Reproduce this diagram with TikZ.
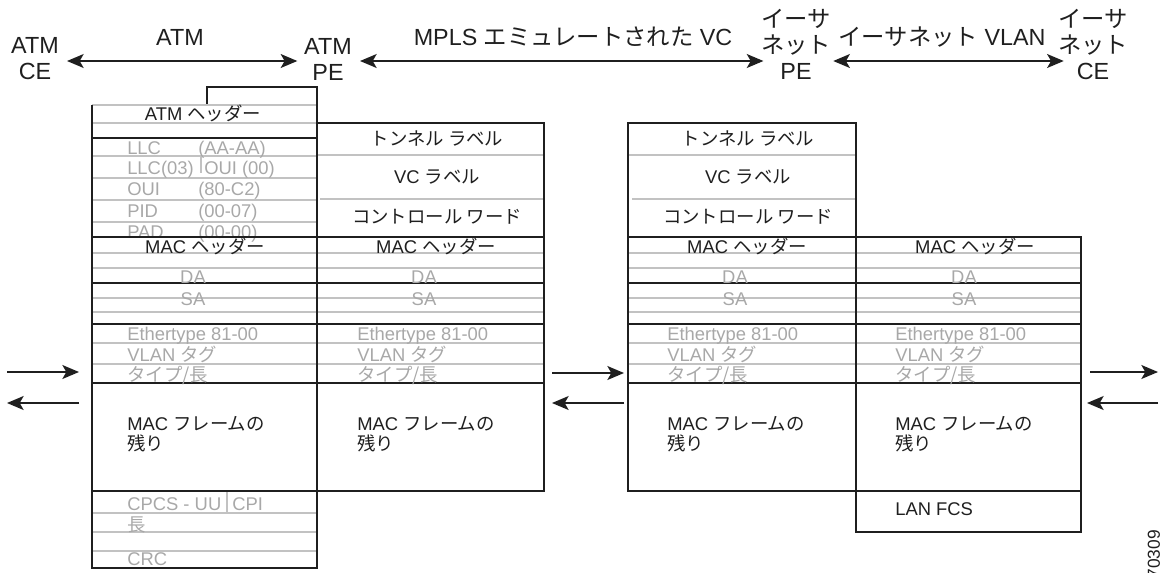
\documentclass[tikz,border=0pt]{standalone}
\usepackage{fontspec}
\setmainfont{Liberation Sans}
\newfontfamily\jpfont{Noto Sans CJK JP}
\newcommand{\JP}[1]{{\jpfont #1}}
\usetikzlibrary{arrows.meta}
\definecolor{lgray}{gray}{0.76}
\definecolor{tgray}{gray}{0.66}
\definecolor{ink}{gray}{0.12}
\begin{document}
\begin{tikzpicture}[x=0.75pt,y=-0.75pt,
  dk/.style={draw=ink,line width=0.9pt},
  gl/.style={draw=lgray,line width=0.9pt},
  lbl/.style={font=\fontsize{17.5}{19.5}\selectfont,align=center,inner sep=0pt,text=ink},
  bt/.style={font=\fontsize{13.8}{15}\selectfont,inner sep=0pt,text=ink},
  gt/.style={bt,text=tgray},
  tip/.tip={Stealth[length=12.5pt,width=10.5pt,inset=3pt]},
  arr/.style={draw=ink,line width=1pt,-tip},
  darr/.style={draw=ink,line width=1pt,tip-tip},
]
\useasboundingbox (0,0) rectangle (1167,572);

% ---------- top labels ----------
\node[lbl] (atmce) at (35,59) {ATM\\CE};
\node[lbl,anchor=base] (atm) at (180,45) {ATM};
\node[lbl] (atmpe) at (328,59) {ATM\\PE};
\node[lbl,anchor=base] (mpls) at (573,45) {MPLS \JP{エミュレートされた} VC};
\node[lbl] (ethpe) at (796,44) {\JP{イーサ}\\\JP{ネット}\\PE};
\node[lbl,anchor=base] (vlan) at (942,45) {\JP{イーサネット} VLAN};
\node[lbl] (ethce) at (1093,44) {\JP{イーサ}\\\JP{ネット}\\CE};
\coordinate (row) at (0,61);
\draw[darr,shorten <=6pt,shorten >=5pt] (atmce.east |- row) -- (atmpe.west |- row);
\draw[darr,shorten <=6pt,shorten >=-2pt] (atmpe.east |- row) -- (ethpe.west |- row);
\draw[darr,shorten <=1.5pt,shorten >=-4.5pt] (ethpe.east |- row) -- (ethce.west |- row);

% ---------- column 1 (ATM) ----------
\draw[dk] (207,105) -- (207,87) -- (317,87) -- (317,105);
\draw[gl] (92,105) -- (317,105);
\draw[dk] (92,105) -- (92,568) -- (317,568) -- (317,105);
\foreach \y in {138} \draw[dk] (92,\y) -- (317,\y);
\foreach \y in {123,156,178,200,222,513,532,551} \draw[gl] (92,\y) -- (317,\y);
\draw[gl] (201,157) -- (201,173);
\draw[gl] (227,491) -- (227,513);

\node[bt,anchor=base] (atmh) at (203,120) {ATM \JP{ヘッダー}};
\node[gt,anchor=base west] (llc1) at (127,154) {LLC};
\node[gt,anchor=base west] (llc1v) at (198,154) {(AA-AA)};
\node[gt,anchor=base west] (llc2) at (127,174) {LLC(03)};
\node[gt,anchor=base west] (llc2v) at (204,174) {OUI (00)};
\node[gt,anchor=base west] (oui) at (127,195) {OUI};
\node[gt,anchor=base west] (ouiv) at (198,195) {(80-C2)};
\node[gt,anchor=base west] (pid) at (127,217) {PID};
\node[gt,anchor=base west] (pidv) at (198,217) {(00-07)};
\node[gt,anchor=base west] (pad) at (127,238) {PAD};
\node[gt,anchor=base west] (padv) at (198,238) {(00-00)};
\node[gt,anchor=base west] (cpcs) at (127,510) {CPCS - UU};
\node[gt,anchor=base west] (cpi) at (232,510) {CPI};
\node[gt,anchor=base west] (len) at (127,531) {\JP{長}};
\node[gt,anchor=base west] (crc) at (127,565) {CRC};

% ---------- column 2 and 3 (MPLS) ----------
\draw[dk] (317,123) rectangle (544,491);
\draw[dk] (628,123) rectangle (856,491);
\draw[gl] (317,155) -- (544,155);
\draw[gl] (320,199) -- (544,199);
\draw[gl] (628,155) -- (856,155);
\draw[gl] (632,199) -- (856,199);
\foreach \cx/\n in {437/a,748/b}{
  \node[bt] (tun\n) at (\cx,138.5) {\JP{トンネル ラベル}};
  \node[bt,anchor=base] (vc\n) at (\cx,183) {VC \JP{ラベル}};
  \node[bt] (cw\n) at (\cx,216.5) {\JP{コントロール ワード}};
}

% ---------- column 4 (Ethernet) ----------
\draw[dk] (856,237) rectangle (1081,532);
\node[bt,anchor=base west] (fcs) at (895,515) {LAN FCS};

% ---------- common Ethernet rows ----------
\foreach \L/\R/\hx/\dx/\tx/\n in {92/317/205/193/127/1,317/544/436/424/357/2,628/856/747/735/667/3,856/1081/975/964/895/4}{
  \foreach \y in {237,283,324,383,491} \draw[dk] (\L,\y) -- (\R,\y);
  \foreach \y in {253,268,298,312,343,364} \draw[gl] (\L,\y) -- (\R,\y);
  \node[bt,anchor=base] (mach\n) at (\hx,253) {MAC \JP{ヘッダー}};
  \node[gt,anchor=base] (da\n) at (\dx,283) {DA};
  \node[gt,anchor=base] (sa\n) at (\dx,305) {SA};
  \node[gt,anchor=base west] (et\n) at (\tx,340) {Ethertype 81-00};
  \node[gt,anchor=base west] (vt\n) at (\tx,361) {VLAN \JP{タグ}};
  \node[gt,anchor=base west] (tl\n) at (\tx,381) {\JP{タイプ/長}};
  \node[bt,anchor=west,align=left,font=\fontsize{13.8}{15}\selectfont] (rest\n) at (\tx,434.5) {MAC \JP{フレームの}\\\JP{残り}};
}
% re-draw dark frame edges over grey rows
\draw[dk] (92,105) -- (92,568);
\draw[dk] (317,87) -- (317,568);
\draw[dk] (544,123) -- (544,491);
\draw[dk] (628,123) -- (628,491);
\draw[dk] (856,123) -- (856,532);
\draw[dk] (1081,237) -- (1081,532);

% ---------- direction arrows ----------
\coordinate (l1a) at (7,372);  \coordinate (l1b) at (79,372);
\coordinate (l2a) at (79,403); \coordinate (l2b) at (7,403);
\coordinate (m1a) at (552,373); \coordinate (m1b) at (624,373);
\coordinate (m2a) at (624,403); \coordinate (m2b) at (552,403);
\coordinate (r1a) at (1090,372); \coordinate (r1b) at (1158,372);
\coordinate (r2a) at (1158,403); \coordinate (r2b) at (1087,403);
\draw[arr] (l1a) -- (l1b);
\draw[arr] (l2a) -- (l2b);
\draw[arr] (m1a) -- (m1b);
\draw[arr] (m2a) -- (m2b);
\draw[arr] (r1a) -- (r1b);
\draw[arr] (r2a) -- (r2b);

% ---------- figure number ----------
\node[font=\fontsize{13}{13}\selectfont,rotate=90,anchor=east,inner sep=0pt,text=ink] (fignum) at (1154,530) {70309};
\end{tikzpicture}
\end{document}
